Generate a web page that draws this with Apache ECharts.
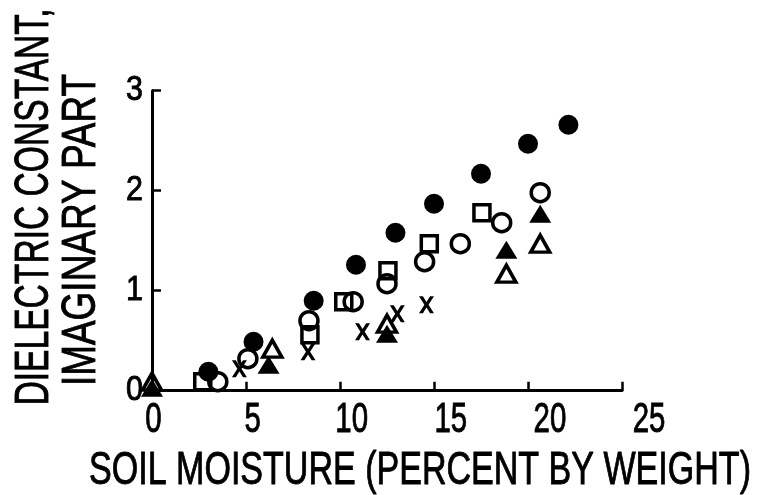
<!DOCTYPE html>
<html>
<head>
<meta charset="utf-8">
<script src="https://cdn.jsdelivr.net/npm/echarts@6/dist/echarts.min.js"></script>
<style>
  html, body { margin: 0; padding: 0; background: #fff; }
  #chart { width: 759px; height: 495px; }
</style>
</head>
<body>
<div id="chart"></div>
<script>
// Imaginary part of the dielectric constant vs. soil moisture, six sample sets
const filledCircles = [[3.0, 0.19], [5.4, 0.49], [8.6, 0.90], [10.85, 1.26], [12.95, 1.58], [15.0, 1.87], [17.5, 2.17], [20.0, 2.47], [22.15, 2.66]];
const openCircles   = [[3.5, 0.09], [5.1, 0.32], [8.35, 0.70], [10.7, 0.89], [12.5, 1.07], [14.5, 1.29], [16.4, 1.47], [18.6, 1.68], [20.65, 1.98]];
const openSquares   = [[2.7, 0.09], [8.4, 0.56], [10.2, 0.89], [12.55, 1.20], [14.75, 1.47], [17.55, 1.78]];
const filledTriangles = [[0.0, 0.03], [6.2, 0.26], [12.5, 0.57], [18.85, 1.41], [20.65, 1.77]];
const openTriangles   = [[0.0, 0.09], [6.4, 0.42], [12.5, 0.67], [18.85, 1.17], [20.65, 1.47]];
const crosses         = [[4.65, 0.22], [8.3, 0.39], [11.2, 0.59], [13.05, 0.77], [14.6, 0.86]];

const xTickValues = [0, 5, 10, 15, 20, 25];
const yTickValues = [0, 1, 2, 3];

const xTitle = 'SOIL MOISTURE (PERCENT BY WEIGHT)';
const yTitleLines = ['DIELECTRIC CONSTANT,', 'IMAGINARY PART'];

// lettering: a plain sans squeezed horizontally to a condensed stencil look
const FONT = "'Liberation Sans', Arial, sans-serif";
const INK = '#000';
const crossPath = 'path://M0,0L2.6,0L5,3.4L7.4,0L10,0L6.4,5L10,10L7.4,10L5,6.6L2.6,10L0,10L3.6,5Z';

const chart = echarts.init(document.getElementById('chart'), null, { renderer: 'canvas' });

const openStyle = { color: 'rgba(0,0,0,0)', borderColor: INK, borderWidth: 3.5, opacity: 1 };
const filledStyle = { color: INK, opacity: 1 };

function scatter(data, symbol, size, style, z) {
  return {
    type: 'scatter', xAxisIndex: 0, yAxisIndex: 0,
    data, symbol, symbolSize: size, itemStyle: style,
    clip: false, z: z, silent: true
  };
}

const first = xTickValues[0], last = xTickValues[xTickValues.length - 1];
const step = xTickValues[1] - xTickValues[0];

chart.setOption({
  backgroundColor: '#fff',
  animation: false,
  grid: [
    { left: 152, right: 137, top: 90.7, bottom: 104.3 },
    // second frame: sets the spacing of the x tick lettering
    { left: 153.5, width: 495.5, top: 90.7, bottom: 104.3 }
  ],
  xAxis: [
    {
      gridIndex: 0, type: 'value', min: first, max: last, interval: step,
      axisLine: { show: true, onZero: false, lineStyle: { color: INK, width: 3 } },
      axisTick: { show: true, inside: true, length: 9, lineStyle: { color: INK, width: 2.5 } },
      axisLabel: { show: false },
      splitLine: { show: false }
    },
    {
      gridIndex: 1, type: 'value', min: first, max: last, interval: step,
      show: false
    }
  ],
  yAxis: [
    {
      gridIndex: 0, type: 'value', min: yTickValues[0], max: yTickValues[yTickValues.length - 1], interval: 1,
      axisLine: { show: true, onZero: false, lineStyle: { color: INK, width: 3 } },
      axisTick: { show: true, inside: true, length: 9, lineStyle: { color: INK, width: 2.5 } },
      axisLabel: { show: false },
      splitLine: { show: false }
    },
    {
      gridIndex: 1, type: 'value', min: yTickValues[0], max: yTickValues[yTickValues.length - 1], show: false
    }
  ],
  series: [
    scatter(filledTriangles, 'triangle', [22, 18], filledStyle, 3),
    scatter(openSquares, 'rect', 16, openStyle, 4),
    scatter(openCircles, 'circle', 18, openStyle, 5),
    scatter(openTriangles, 'triangle', [19, 17], openStyle, 6),
    scatter(filledCircles, 'circle', 20, filledStyle, 7),
    scatter(crosses, crossPath, [15, 17], filledStyle, 8)
  ]
});

// tick lettering and titles, placed through the axes' own scales
function lettering(id, text, x, y, size, sx, align, rotation) {
  return {
    id, type: 'text', x, y, rotation: rotation || 0, scaleX: sx, scaleY: 1, z: 10,
    style: {
      text, fill: INK, stroke: INK, lineWidth: 0.9,
      font: size + 'px ' + FONT, align: align, verticalAlign: 'middle'
    }
  };
}

const graphics = [];
xTickValues.forEach(function (v, i) {
  const px = chart.convertToPixel({ xAxisIndex: 1 }, v);
  graphics.push(lettering('xt' + i, String(v), px, 420, 42, 0.7, 'center'));
});
yTickValues.forEach(function (v, i) {
  const py = chart.convertToPixel({ yAxisIndex: 0 }, v);
  graphics.push(lettering('yt' + i, String(v), 143, py, 35, 0.87, 'right'));
});
graphics.push(lettering('xtitle', xTitle, 420, 471, 46, 0.74, 'center'));
graphics.push(lettering('ytitle1', yTitleLines[0], 35, 207, 48, 0.70, 'center', Math.PI / 2));
graphics.push(lettering('ytitle2', yTitleLines[1], 82, 230, 48, 0.77, 'center', Math.PI / 2));

chart.setOption({ graphic: graphics });
</script>
</body>
</html>
